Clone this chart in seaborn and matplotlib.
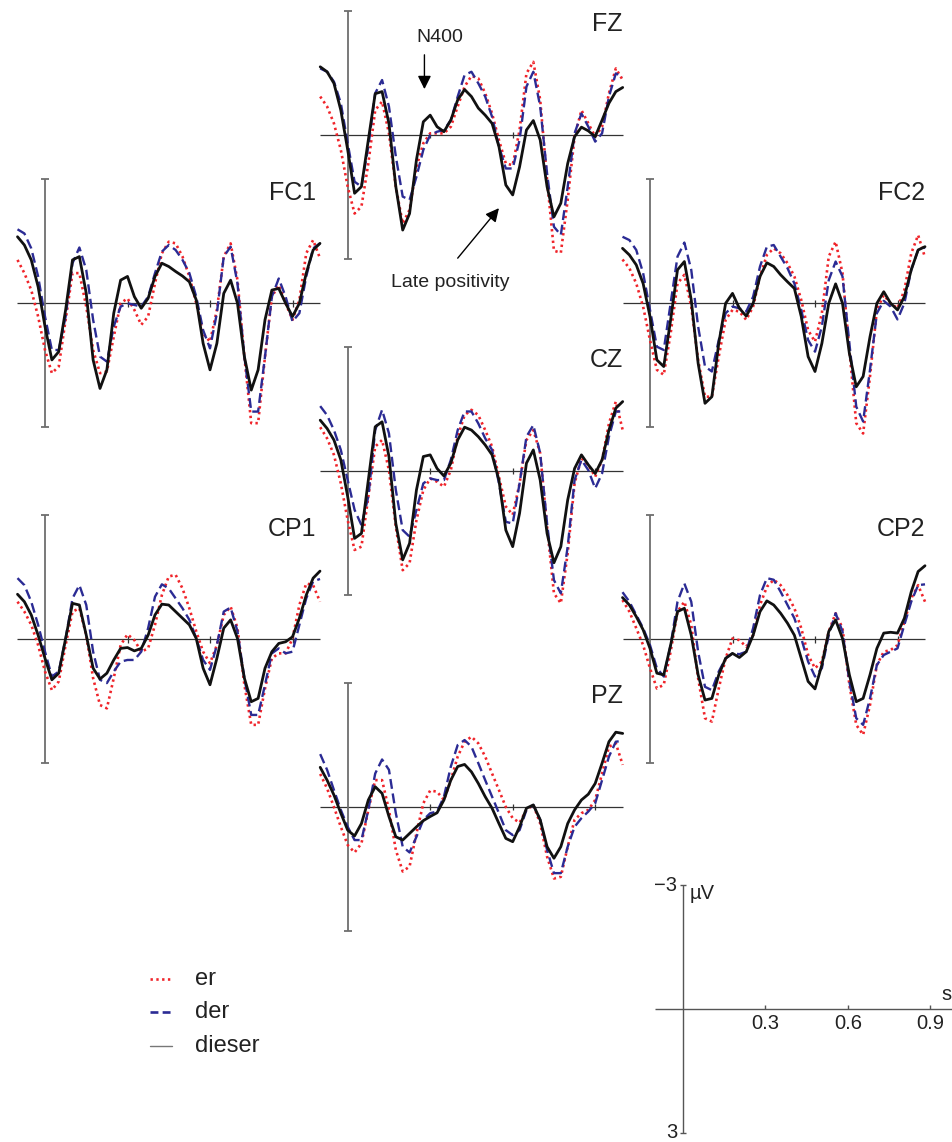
import numpy as np
import pandas as pd
import matplotlib
matplotlib.use('Agg')
from matplotlib import pyplot as plt
import seaborn as sns

# sampling grid (ms) shared by every trace
time_ms = [-100, -75, -50, -25, 0, 25, 50, 75, 100, 125, 150, 175, 200, 225, 250, 275,
           300, 325, 350, 375, 400, 425, 450, 475, 500, 525, 550, 575, 600, 625, 650,
           675, 700, 725, 750, 775, 800, 825, 850, 875, 900, 925, 950, 975, 1000]

# ERP amplitudes in microvolts (negative plotted up)
fz_er = [-0.93, -0.69, -0.28, 0.36, 1.25, 1.90, 1.73, 0.69, -0.60, -0.81, -0.04, 1.25, 2.14, 1.81, 0.77,
         0.20, -0.04, -0.04, -0.04, -0.20, -0.69, -1.17, -1.43, -1.37, -1.01, -0.52, 0.12, 0.69, 0.73,
         -0.12, -1.49, -1.77, -0.85, 1.09, 2.80, 2.85, 1.57, 0.04, -0.60, -0.28, 0.04, -0.20, -1.01, -1.61, -1.33]
fz_der = [-1.61, -1.53, -1.29, -0.77, 0.20, 1.13, 1.25, 0.28, -1.01, -1.33, -0.69, 0.52, 1.49, 1.57, 1.01,
          0.36, 0.00, -0.08, -0.12, -0.36, -0.93, -1.45, -1.53, -1.25, -0.93, -0.44, 0.28, 0.81, 0.81,
          0.12, -1.17, -1.53, -0.69, 0.93, 2.22, 2.42, 1.25, -0.04, -0.52, -0.20, 0.16, -0.04, -0.93, -1.49, -1.41]
fz_dieser = [-1.65, -1.53, -1.25, -0.60, 0.36, 1.41, 1.25, 0.12, -1.00, -1.05, -0.28, 1.25, 2.30, 1.90, 0.60,
             -0.32, -0.48, -0.20, -0.08, -0.36, -0.85, -1.10, -0.93, -0.65, -0.48, -0.28, 0.28, 1.21, 1.45,
             0.77, -0.12, -0.35, 0.12, 1.25, 1.98, 1.65, 0.69, 0.04, -0.19, -0.10, 0.04, -0.36, -0.77, -1.05, -1.15]

fc1_er = [-1.05, -0.73, -0.32, 0.32, 1.13, 1.69, 1.53, 0.40, -0.73, -0.73, 0.08, 1.13, 1.69, 1.65, 0.81,
          0.00, -0.12, 0.16, 0.52, 0.32, -0.48, -1.21, -1.49, -1.45, -1.13, -0.65, 0.00, 0.73, 0.93,
          0.16, -1.13, -1.45, -0.56, 1.29, 2.90, 2.90, 1.29, -0.16, -0.44, 0.00, 0.40, -0.08, -1.21, -1.53, -1.09]
fc1_der = [-1.79, -1.69, -1.33, -0.65, 0.32, 1.13, 1.13, 0.32, -0.97, -1.35, -0.81, 0.40, 1.29, 1.41, 0.56,
           0.08, 0.00, 0.04, 0.08, -0.16, -0.73, -1.25, -1.41, -1.29, -1.05, -0.73, -0.16, 0.65, 1.09,
           0.24, -1.13, -1.37, -0.48, 1.29, 2.62, 2.62, 1.29, -0.16, -0.60, -0.16, 0.44, 0.24, -0.65, -1.33, -1.45]
fc1_dieser = [-1.61, -1.41, -1.05, -0.40, 0.56, 1.37, 1.17, 0.16, -1.05, -1.13, -0.24, 1.37, 2.06, 1.61, 0.24,
              -0.56, -0.65, -0.16, 0.12, -0.12, -0.65, -0.97, -0.89, -0.77, -0.66, -0.52, -0.08, 0.97, 1.61,
              0.97, -0.24, -0.56, 0.00, 1.29, 2.10, 1.61, 0.40, -0.32, -0.36, 0.00, 0.32, 0.00, -0.73, -1.29, -1.45]

fc2_er = [-1.06, -0.85, -0.48, 0.08, 0.89, 1.61, 1.73, 0.73, -0.48, -0.69, 0.08, 1.37, 2.26, 2.26, 1.29,
          0.40, 0.16, 0.20, 0.40, 0.08, -0.65, -1.17, -1.33, -1.21, -0.97, -0.65, -0.08, 0.65, 0.93,
          0.24, -1.13, -1.49, -0.73, 1.13, 2.90, 3.15, 1.77, 0.16, -0.20, 0.00, 0.12, -0.32, -1.21, -1.65, -1.11]
fc2_der = [-1.61, -1.53, -1.29, -0.73, 0.16, 1.05, 1.13, 0.00, -1.13, -1.47, -0.81, 0.56, 1.53, 1.65, 0.89,
           0.24, 0.08, 0.12, 0.20, -0.16, -0.89, -1.37, -1.41, -1.13, -0.85, -0.48, 0.16, 0.89, 1.17,
           0.56, -0.56, -1.01, -0.65, 0.97, 2.50, 2.86, 1.61, 0.24, -0.06, 0.08, 0.39, 0.00, -0.81, -1.29, -1.35]
fc2_dieser = [-1.33, -1.17, -0.93, -0.48, 0.32, 1.37, 1.53, 0.40, -0.81, -1.01, -0.08, 1.45, 2.42, 2.26, 0.97,
              0.00, -0.24, 0.12, 0.31, 0.00, -0.65, -0.98, -0.89, -0.69, -0.52, -0.36, 0.32, 1.29, 1.65,
              0.97, 0.00, -0.47, 0.00, 1.21, 2.02, 1.77, 0.81, 0.00, -0.28, 0.00, 0.16, -0.16, -0.81, -1.29, -1.37]

cz_er = [-1.06, -0.79, -0.39, 0.30, 1.19, 1.91, 1.83, 0.62, -0.59, -0.75, -0.02, 1.35, 2.40, 2.23, 1.19,
         0.46, 0.18, 0.26, 0.38, -0.02, -0.83, -1.35, -1.48, -1.35, -0.99, -0.59, 0.14, 0.86, 1.06,
         0.30, -0.75, -0.99, -0.43, 1.35, 2.96, 3.20, 1.99, 0.30, -0.31, -0.15, 0.14, -0.27, -1.15, -1.68, -0.99]
cz_der = [-1.57, -1.35, -0.99, -0.51, 0.22, 0.94, 1.31, 0.62, -0.99, -1.48, -0.91, 0.46, 1.43, 1.59, 0.94,
          0.30, 0.18, 0.22, 0.22, -0.27, -0.99, -1.44, -1.44, -1.15, -0.79, -0.51, 0.30, 1.23, 1.27,
          0.30, -0.83, -1.11, -0.43, 1.27, 2.64, 2.96, 1.83, 0.22, -0.27, -0.02, 0.42, 0.06, -0.83, -1.44, -1.44]
cz_dieser = [-1.23, -1.03, -0.75, -0.27, 0.62, 1.63, 1.51, 0.22, -1.07, -1.19, -0.35, 1.27, 2.15, 1.75, 0.46,
             -0.35, -0.39, -0.06, 0.12, -0.19, -0.75, -1.06, -0.99, -0.83, -0.63, -0.39, 0.22, 1.43, 1.83,
             1.02, -0.19, -0.51, 0.22, 1.51, 2.22, 1.83, 0.70, -0.06, -0.39, -0.15, 0.06, -0.27, -0.99, -1.52, -1.68]

cp1_er = [-0.91, -0.67, -0.35, 0.14, 0.78, 1.23, 1.02, 0.14, -0.67, -0.75, -0.10, 0.94, 1.59, 1.67, 0.94,
          0.14, -0.12, 0.02, 0.30, 0.22, -0.35, -1.07, -1.52, -1.56, -1.23, -0.75, -0.19, 0.30, 0.58,
          0.14, -0.59, -0.79, -0.27, 1.10, 2.07, 2.07, 1.19, 0.46, 0.34, 0.34, -0.02, -0.83, -1.35, -1.31, -0.91]
cp1_der = [-1.48, -1.31, -0.91, -0.35, 0.30, 0.90, 0.78, -0.02, -0.99, -1.31, -0.83, 0.30, 0.98, 1.06, 0.78,
           0.54, 0.50, 0.50, 0.30, -0.27, -1.03, -1.33, -1.23, -0.99, -0.75, -0.47, -0.02, 0.50, 0.74,
           0.14, -0.67, -0.77, -0.19, 0.94, 1.83, 1.83, 1.10, 0.34, 0.22, 0.34, 0.30, -0.35, -0.99, -1.40, -1.46]
cp1_dieser = [-1.09, -0.91, -0.59, -0.10, 0.46, 0.98, 0.82, -0.02, -0.87, -0.83, -0.10, 0.70, 0.96, 0.82, 0.50,
              0.22, 0.20, 0.28, 0.22, -0.10, -0.59, -0.85, -0.83, -0.67, -0.51, -0.35, -0.02, 0.70, 1.10,
              0.46, -0.27, -0.47, -0.02, 0.94, 1.51, 1.43, 0.70, 0.30, 0.10, 0.06, -0.06, -0.51, -1.07, -1.48, -1.65]

cp2_er = [-0.95, -0.67, -0.27, 0.14, 0.70, 1.19, 1.10, 0.30, -0.67, -0.91, -0.35, 0.94, 1.91, 1.99, 1.19,
          0.46, -0.02, 0.02, 0.18, -0.10, -0.83, -1.27, -1.44, -1.31, -1.07, -0.75, -0.27, 0.38, 0.70,
          0.54, -0.19, -0.63, -0.27, 1.10, 2.07, 2.31, 1.59, 0.62, 0.30, 0.26, 0.14, -0.43, -0.99, -1.31, -0.91]
cp2_der = [-1.14, -0.91, -0.59, -0.27, 0.14, 0.70, 0.90, 0.14, -0.91, -1.35, -0.91, 0.30, 1.15, 1.23, 0.78,
           0.46, 0.34, 0.36, 0.30, -0.27, -1.07, -1.48, -1.44, -1.15, -0.83, -0.51, -0.02, 0.54, 0.90,
           0.70, -0.10, -0.63, -0.19, 1.02, 1.91, 2.07, 1.43, 0.62, 0.38, 0.30, 0.22, -0.35, -0.91, -1.31, -1.33]
cp2_dieser = [-1.01, -0.83, -0.55, -0.23, 0.22, 0.82, 0.86, 0.14, -0.67, -0.75, -0.10, 0.86, 1.47, 1.43, 0.86,
              0.46, 0.34, 0.44, 0.30, -0.10, -0.67, -0.93, -0.83, -0.63, -0.39, -0.10, 0.46, 1.02, 1.20,
              0.62, -0.19, -0.47, -0.02, 0.86, 1.51, 1.43, 0.86, 0.22, -0.15, -0.17, -0.15, -0.51, -1.15, -1.64, -1.78]

pz_er = [-0.80, -0.45, 0.00, 0.48, 0.92, 1.10, 0.88, 0.07, -0.65, -0.65, 0.07, 1.04, 1.56, 1.44, 0.64,
         -0.09, -0.40, -0.37, -0.17, -0.65, -1.22, -1.58, -1.70, -1.54, -1.22, -0.81, -0.41, 0.00, 0.27,
         0.38, 0.07, -0.05, 0.40, 1.20, 1.73, 1.69, 0.96, 0.31, 0.15, 0.07, -0.17, -0.81, -1.46, -1.54, -1.02]
pz_der = [-1.28, -0.90, -0.41, 0.07, 0.48, 0.80, 0.80, 0.07, -0.81, -1.15, -0.90, 0.15, 0.96, 1.10, 0.72,
          0.31, 0.15, 0.11, -0.25, -0.98, -1.50, -1.62, -1.46, -1.06, -0.65, -0.25, 0.15, 0.56, 0.68,
          0.56, 0.07, -0.05, 0.31, 1.04, 1.60, 1.60, 0.96, 0.48, 0.27, 0.11, -0.09, -0.65, -1.22, -1.58, -1.60]
pz_dieser = [-0.96, -0.65, -0.29, 0.15, 0.56, 0.70, 0.40, -0.17, -0.49, -0.33, 0.23, 0.72, 0.80, 0.64, 0.48,
             0.33, 0.23, 0.14, -0.17, -0.65, -0.98, -1.03, -0.85, -0.57, -0.25, 0.03, 0.40, 0.76, 0.84,
             0.48, 0.03, -0.05, 0.31, 0.96, 1.24, 0.96, 0.40, 0.07, -0.17, -0.31, -0.57, -1.06, -1.58, -1.81, -1.78]

conditions = ['er', 'der', 'dieser']
scale_ticks = [0.3, 0.6, 0.9]
scale_labels = ['0.3', '0.6', '0.9']

# panel name, pixel position of (t=0, 0 uV), traces
panels = [
    ('FZ', 347.7, 135.0, [fz_er, fz_der, fz_dieser]),
    ('FC1', 45.0, 303.3, [fc1_er, fc1_der, fc1_dieser]),
    ('FC2', 650.0, 303.3, [fc2_er, fc2_der, fc2_dieser]),
    ('CZ', 347.7, 471.0, [cz_er, cz_der, cz_dieser]),
    ('CP1', 45.0, 639.3, [cp1_er, cp1_der, cp1_dieser]),
    ('CP2', 650.0, 639.3, [cp2_er, cp2_der, cp2_dieser]),
    ('PZ', 347.7, 807.0, [pz_er, pz_der, pz_dieser]),
]

W, H = 953, 1142
PX_S = 275.0      # pixels per second
PX_UV = 41.33     # pixels per microvolt

sns.set_style('white')
plt.rcParams['font.family'] = ['Liberation Sans', 'DejaVu Sans']

styles = {
    'er': dict(color='#f0242a', lw=1.9, linestyle=(0, (0.9, 1.3))),
    'der': dict(color='#2b2b94', lw=1.7, linestyle=(0, (4.2, 2.0))),
    'dieser': dict(color='#111111', lw=2.0, linestyle='-'),
}

fig = plt.figure(figsize=(W / 100, H / 100), dpi=100)


def panel_axes(x0, y0, t_lo=-0.12, t_hi=1.04, v_lim=3.5):
    left = x0 + t_lo * PX_S
    width = (t_hi - t_lo) * PX_S
    top = y0 - v_lim * PX_UV
    height = 2 * v_lim * PX_UV
    ax = fig.add_axes([left / W, 1 - (top + height) / H, width / W, height / H])
    ax.set_xlim(t_lo, t_hi)
    ax.set_ylim(v_lim, -v_lim)   # negative up
    ax.axis('off')
    return ax


t_s = np.array(time_ms) / 1000.0

axes = {}
for name, x0, y0, traces in panels:
    ax = panel_axes(x0, y0)
    axes[name] = ax
    # frame: baseline, amplitude bar, time ticks
    ax.hlines(0, -0.1, 1.0, color='#333333', lw=0.9)
    ax.vlines(0, -3, 3, color='#6e6e6e', lw=1.3)
    ax.hlines([-3, 3], -0.014, 0.014, color='#6e6e6e', lw=1.3)
    ax.vlines(scale_ticks, -0.08, 0.08, color='#333333', lw=0.9)
    df = pd.DataFrame({'t': np.tile(t_s, 3),
                       'v': np.concatenate(traces),
                       'cond': np.repeat(conditions, len(t_s))})
    for cond in conditions:
        sub = df[df['cond'] == cond]
        sns.lineplot(x=sub['t'], y=sub['v'], ax=ax, legend=False, errorbar=None,
                     solid_joinstyle='round', dash_joinstyle='round',
                     **styles[cond])
    lbl_t = 0.985 if x0 < 100 else 1.0
    ax.text(lbl_t, -2.97, name, ha='right', va='top', fontsize=18, color='#222222')

# annotations on FZ
fz = axes['FZ']
fz.annotate('', xy=(0.279, -1.11), xytext=(0.279, -1.94),
            arrowprops=dict(arrowstyle='-|>', color='k', lw=1.0, mutation_scale=20,
                            shrinkA=0, shrinkB=0))
fz.text(0.335, -2.37, 'N400', ha='center', va='center', fontsize=14, color='#222222')
fz.annotate('', xy=(0.55, 1.77), xytext=(0.40, 2.98),
            arrowprops=dict(arrowstyle='-|>', color='k', lw=1.0, mutation_scale=20,
                            shrinkA=0, shrinkB=0))
fz.text(0.373, 3.58, 'Late positivity', ha='center', va='center', fontsize=14,
        color='#222222')

# calibration axes
sc = panel_axes(683.0, 1009.0, t_lo=-0.12, t_hi=1.1, v_lim=3.3)
sc.hlines(0, -0.1, 1.1, color='#555555', lw=1.0)
sc.vlines(0, -3, 3, color='#555555', lw=1.0)
sc.hlines([-3, 3], -0.012, 0.012, color='#555555', lw=1.0)
sc.vlines(scale_ticks, -0.1, 0, color='#555555', lw=1.0)
for tk, lab in zip(scale_ticks, scale_labels):
    sc.text(tk, 0.36, lab, ha='center', va='center', fontsize=14.5, color='#222222')
sc.text(-0.02, -2.98, '\u22123', ha='right', va='center', fontsize=14.5, color='#222222')
sc.text(-0.02, 2.98, '3', ha='right', va='center', fontsize=14.5, color='#222222')
sc.text(0.025, -2.8, '\u00b5V', ha='left', va='center', fontsize=14.5, color='#222222')
sc.text(0.94, -0.36, 's', ha='left', va='center', fontsize=14.5, color='#222222')

# legend
ov = fig.add_axes([0, 0, 1, 1])
ov.set_xlim(0, W)
ov.set_ylim(H, 0)
ov.axis('off')
leg_y = [979, 1012, 1046]
leg_style = {
    'er': dict(color='#f0242a', lw=1.9, linestyle=(0, (0.9, 1.3))),
    'der': dict(color='#2b2b94', lw=1.9, linestyle=(0, (3.0, 1.6))),
    'dieser': dict(color='#777777', lw=1.0, linestyle='-'),
}
for cond, yy in zip(conditions, leg_y):
    ov.plot([150, 172], [yy, yy], **leg_style[cond])
    ov.text(195, yy, cond, ha='left', va='center', fontsize=17, color='#222222')

plt.savefig('out.png', dpi=100)
